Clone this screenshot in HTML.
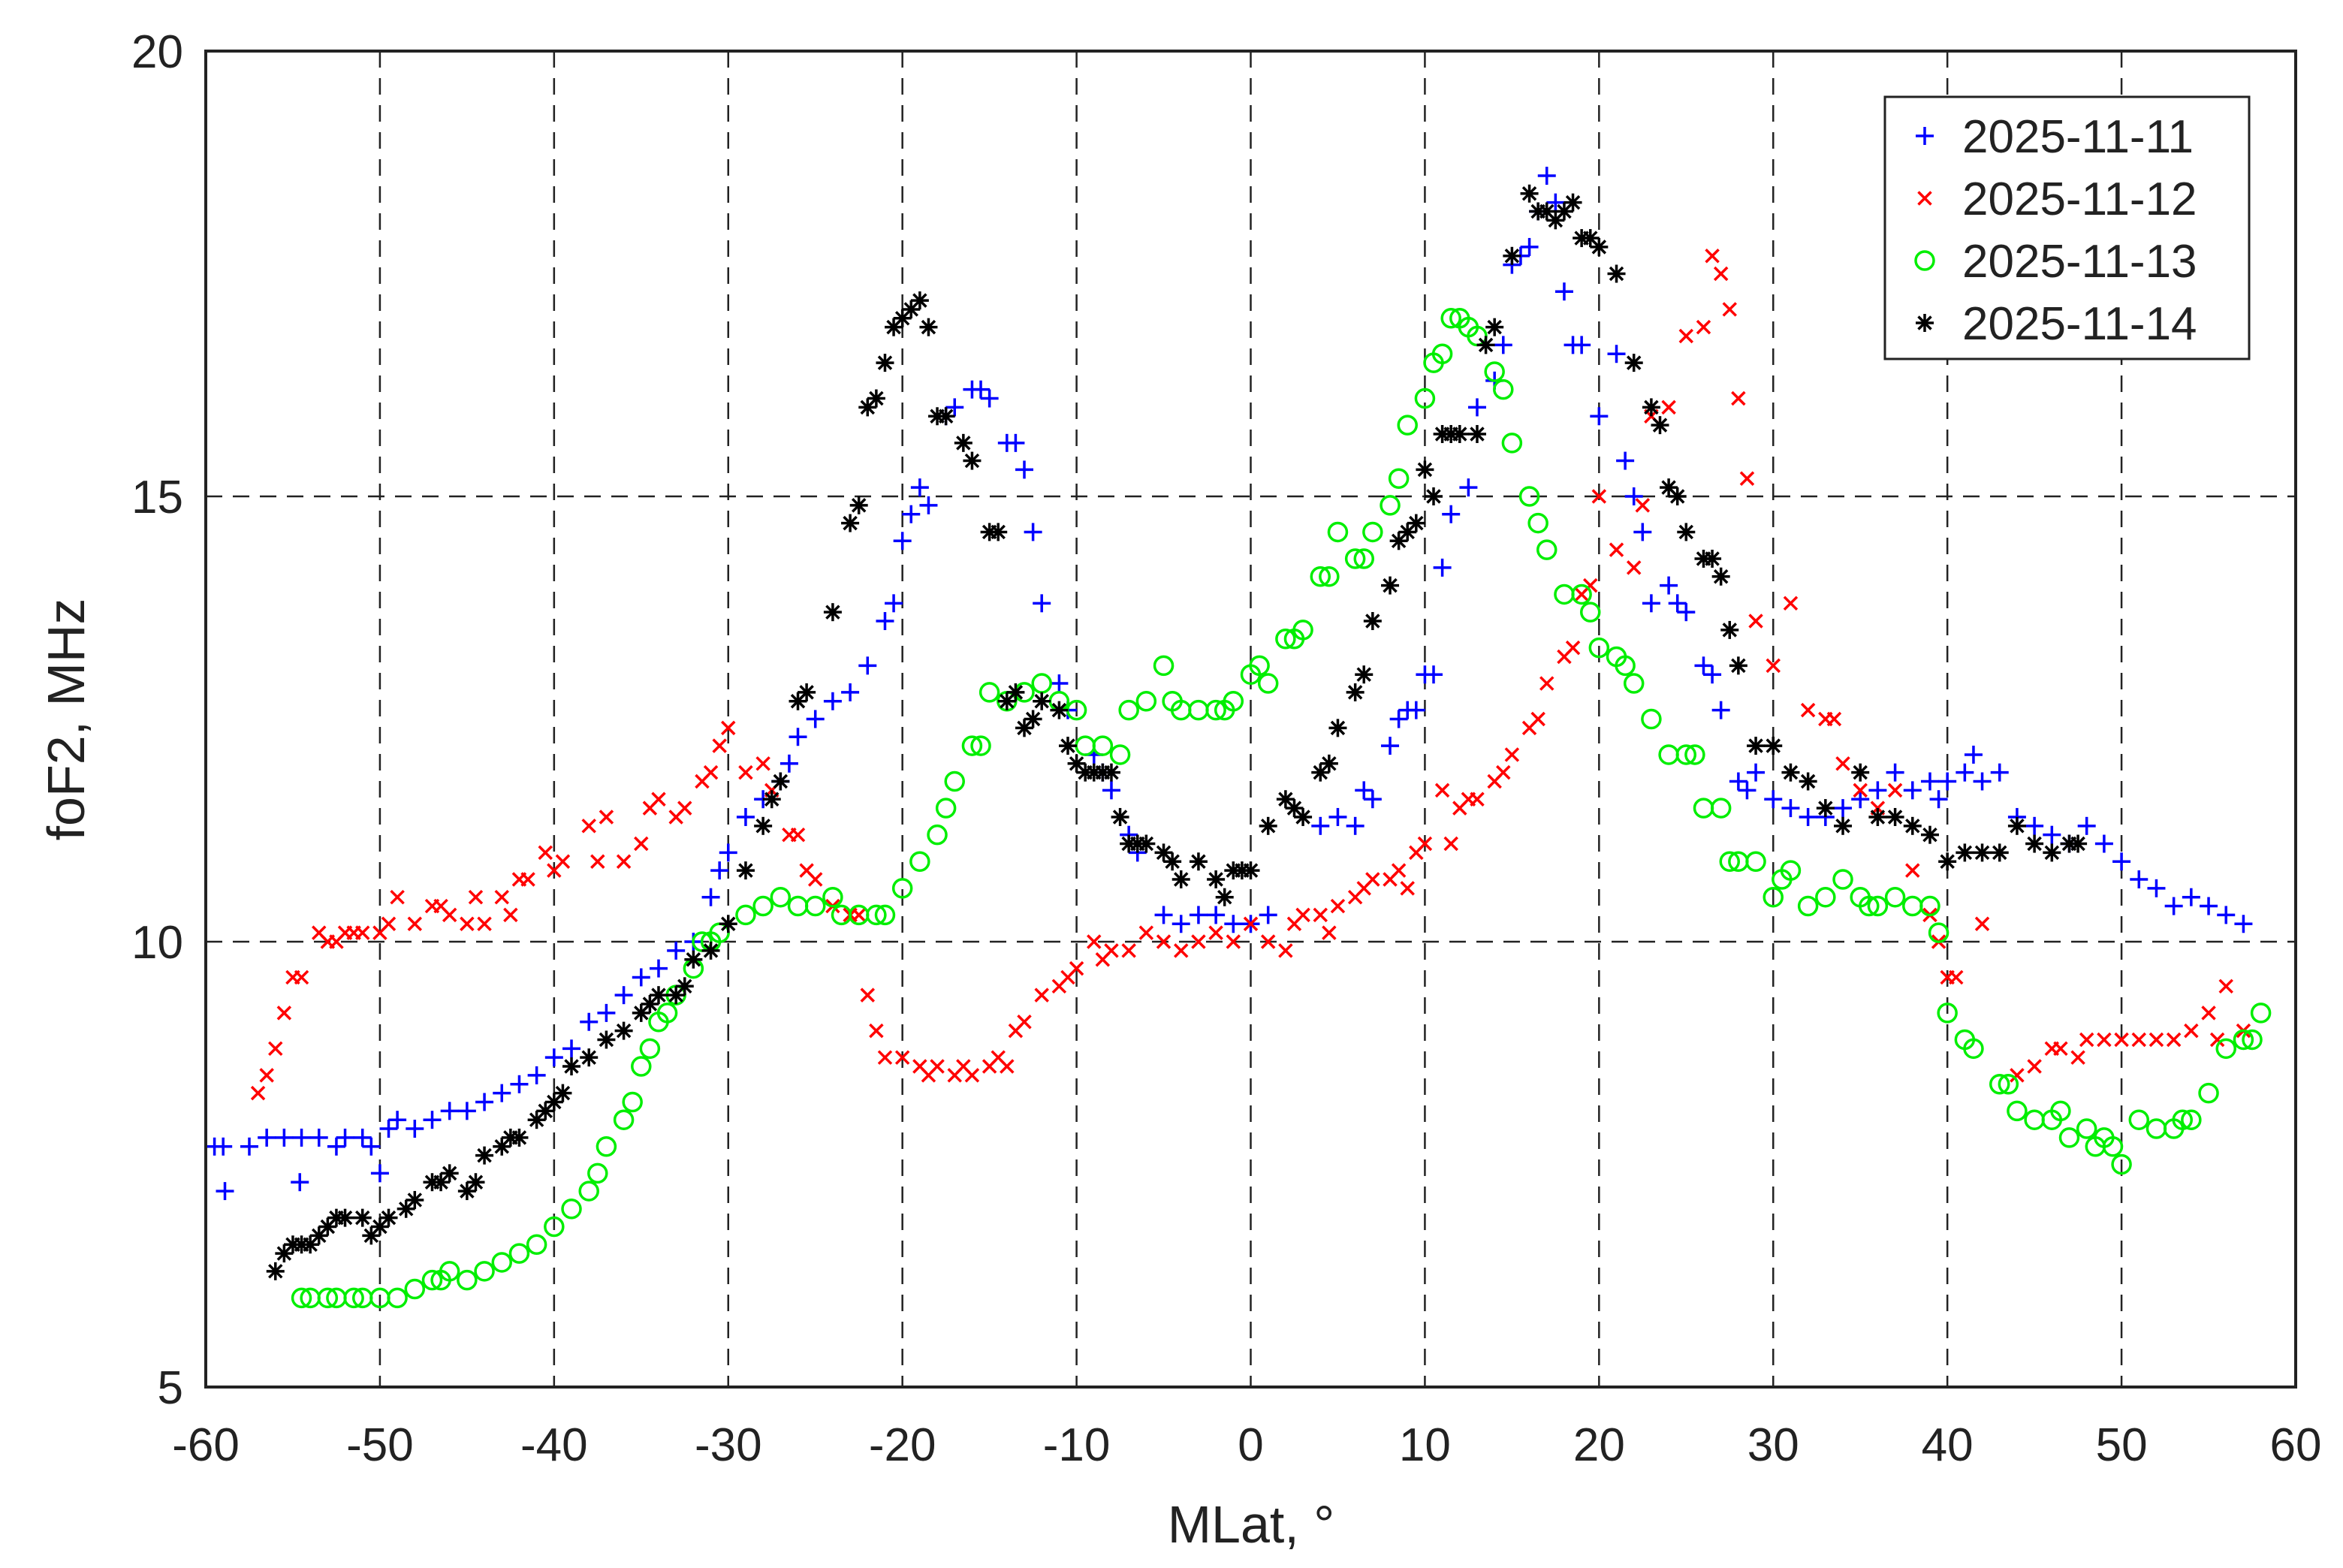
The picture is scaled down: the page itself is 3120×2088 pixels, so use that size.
<!DOCTYPE html>
<html><head><meta charset="utf-8"><style>
html,body{margin:0;padding:0;background:#fff;}
svg{display:block;font-family:"Liberation Sans",Arial,sans-serif;}
</style></head><body>
<svg id="chart" width="3120" height="2088" viewBox="0 0 3120 2088" xmlns="http://www.w3.org/2000/svg">
<rect width="3120" height="2088" fill="#fff"/>
<g id="grid"></g>
<g id="marks"></g>
<rect x="274" y="68" width="2783" height="1779" fill="none" stroke="#222" stroke-width="4"/>
<g id="ticks" font-size="62" fill="#222"></g>
<text x="1666" y="2054" font-size="70" text-anchor="middle" fill="#222">MLat, °</text>
<text transform="translate(112,958) rotate(-90)" font-size="70" text-anchor="middle" fill="#222">foF2, MHz</text>
<g>
<rect x="2510" y="129" width="485" height="349" fill="#fff" stroke="#222" stroke-width="3"/>
<g id="legend-marks"></g>
</g>
</svg>
<script>
const xTicks=[-60,-50,-40,-30,-20,-10,0,10,20,30,40,50,60];
const yTicks=[5,10,15,20];
const seriesNames=["2025-11-11","2025-11-12","2025-11-13","2025-11-14"];
const blueX=[-59.5,-59,-58.9,-57.5,-56.5,-55.5,-54.6,-54.5,-53.5,-52.5,-52,-51,-50.5,-50,-49.5,-49,-48,-47,-46,-45,-44,-43,-42,-41,-40,-39,-38,-37,-36,-35,-34,-33,-32,-31,-30.5,-30,-29,-28,-27,-26.5,-26,-25,-24,-23,-22,-21,-20.5,-20,-19.5,-19,-18.5,-17.5,-17,-16,-15.5,-15,-14,-13.5,-13,-12.5,-12,-11,-10.5,-9,-8.5,-8,-7,-6.5,-5,-4,-3,-2,-1,0,1,4,5,6,6.5,7,8,8.5,9,9.5,10,10.5,11,11.5,12.5,13,14,14.5,15,15.5,16,16.5,17,17.5,18,18.5,19,20,21,21.5,22,22.5,23,24,24.5,25,26,26.5,27,28,28.5,29,30,31,32,33,34,35,36,37,38,39,39.5,40,41,41.5,42,43,44,45,46,47,48,49,50,51,52,53,54,55,56,57];
const blueY=[7.7,7.7,7.2,7.7,7.8,7.8,7.3,7.8,7.8,7.7,7.8,7.8,7.7,7.4,7.9,8.0,7.9,8.0,8.1,8.1,8.2,8.3,8.4,8.5,8.7,8.8,9.1,9.2,9.4,9.6,9.7,9.9,10.0,10.5,10.8,11.0,11.4,11.6,11.8,12.0,12.3,12.5,12.7,12.8,13.1,13.6,13.8,14.5,14.8,15.1,14.9,15.9,16.0,16.2,16.2,16.1,15.6,15.6,15.3,14.6,13.8,12.9,12.6,12.1,11.9,11.7,11.2,11.0,10.3,10.2,10.3,10.3,10.2,10.2,10.3,11.3,11.4,11.3,11.7,11.6,12.2,12.5,12.6,12.6,13.0,13.0,14.2,14.8,15.1,16.0,16.3,16.7,17.6,17.7,17.8,18.2,18.6,18.3,17.3,16.7,16.7,15.9,16.6,15.4,15.0,14.6,13.8,14.0,13.8,13.7,13.1,13.0,12.6,11.8,11.7,11.9,11.6,11.5,11.4,11.4,11.5,11.6,11.7,11.9,11.7,11.8,11.6,11.8,11.9,12.1,11.8,11.9,11.4,11.3,11.2,11.1,11.3,11.1,10.9,10.7,10.6,10.4,10.5,10.4,10.3,10.2];
const redX=[-57,-56.5,-56,-55.5,-55,-54.5,-53.5,-53,-52.5,-52,-51.5,-51,-50,-49.5,-49,-48,-47,-46.5,-46,-45,-44.5,-44,-43,-42.5,-42,-41.5,-40.5,-40,-39.5,-38,-37.5,-37,-36,-35,-34.5,-34,-33,-32.5,-31.5,-31,-30.5,-30,-29,-28,-27.5,-26.5,-26,-25.5,-25,-24,-23,-22.5,-22,-21.5,-21,-20,-19,-18.5,-18,-17,-16.5,-16,-15,-14.5,-14,-13.5,-13,-12,-11,-10.5,-10,-9,-8.5,-8,-7,-6,-5,-4,-3,-2,-1,0,1,2,2.5,3,4,4.5,5,6,6.5,7,8,8.5,9,9.5,10,11,11.5,12,12.5,13,14,14.5,15,16,16.5,17,18,18.5,19,19.5,20,21,22,22.5,23,24,25,26,26.5,27,27.5,28,28.5,29,30,31,32,33,33.5,34,35,36,37,38,39,39.5,40,40.5,42,44,45,46,46.5,47.5,48,49,50,51,52,53,54,55,55.5,56,57];
const redY=[8.3,8.5,8.8,9.2,9.6,9.6,10.1,10.0,10.0,10.1,10.1,10.1,10.1,10.2,10.5,10.2,10.4,10.4,10.3,10.2,10.5,10.2,10.5,10.3,10.7,10.7,11.0,10.8,10.9,11.3,10.9,11.4,10.9,11.1,11.5,11.6,11.4,11.5,11.8,11.9,12.2,12.4,11.9,12.0,11.7,11.2,11.2,10.8,10.7,10.4,10.3,10.3,9.4,9.0,8.7,8.7,8.6,8.5,8.6,8.5,8.6,8.5,8.6,8.7,8.6,9.0,9.1,9.4,9.5,9.6,9.7,10.0,9.8,9.9,9.9,10.1,10.0,9.9,10.0,10.1,10.0,10.2,10.0,9.9,10.2,10.3,10.3,10.1,10.4,10.5,10.6,10.7,10.7,10.8,10.6,11.0,11.1,11.7,11.1,11.5,11.6,11.6,11.8,11.9,12.1,12.4,12.5,12.9,13.2,13.3,13.9,14.0,15.0,14.4,14.2,14.9,15.9,16.0,16.8,16.9,17.7,17.5,17.1,16.1,15.2,13.6,13.1,13.8,12.6,12.5,12.5,12.0,11.7,11.5,11.7,10.8,10.3,10.0,9.6,9.6,10.2,8.5,8.6,8.8,8.8,8.7,8.9,8.9,8.9,8.9,8.9,8.9,9.0,9.2,8.9,9.5,9.0];
const greenX=[-54.5,-54,-53,-52.5,-51.5,-51,-50,-49,-48,-47,-46.5,-46,-45,-44,-43,-42,-41,-40,-39,-38,-37.5,-37,-36,-35.5,-35,-34.5,-34,-33.5,-33,-32,-31.5,-31,-30.5,-29,-28,-27,-26,-25,-24,-23.5,-22.5,-21.5,-21,-20,-19,-18,-17.5,-17,-16,-15.5,-15,-14,-13,-12,-11,-10,-9.5,-8.5,-7.5,-7,-6,-5,-4.5,-4,-3,-2,-1.5,-1,0,0.5,1,2,2.5,3,4,4.5,5,6,6.5,7,8,8.5,9,10,10.5,11,11.5,12,12.5,13,14,14.5,15,16,16.5,17,18,19,19.5,20,21,21.5,22,23,24,25,25.5,26,27,27.5,28,29,30,30.5,31,32,33,34,35,35.5,36,37,38,39,39.5,40,41,41.5,43,43.5,44,45,46,46.5,47,48,48.5,49,49.5,50,51,52,53,53.5,54,55,56,57,57.5,58];
const greenY=[6.0,6.0,6.0,6.0,6.0,6.0,6.0,6.0,6.1,6.2,6.2,6.3,6.2,6.3,6.4,6.5,6.6,6.8,7.0,7.2,7.4,7.7,8.0,8.2,8.6,8.8,9.1,9.2,9.4,9.7,10.0,10.0,10.1,10.3,10.4,10.5,10.4,10.4,10.5,10.3,10.3,10.3,10.3,10.6,10.9,11.2,11.5,11.8,12.2,12.2,12.8,12.7,12.8,12.9,12.7,12.6,12.2,12.2,12.1,12.6,12.7,13.1,12.7,12.6,12.6,12.6,12.6,12.7,13.0,13.1,12.9,13.4,13.4,13.5,14.1,14.1,14.6,14.3,14.3,14.6,14.9,15.2,15.8,16.1,16.5,16.6,17.0,17.0,16.9,16.8,16.4,16.2,15.6,15.0,14.7,14.4,13.9,13.9,13.7,13.3,13.2,13.1,12.9,12.5,12.1,12.1,12.1,11.5,11.5,10.9,10.9,10.9,10.5,10.7,10.8,10.4,10.5,10.7,10.5,10.4,10.4,10.5,10.4,10.4,10.1,9.2,8.9,8.8,8.4,8.4,8.1,8.0,8.0,8.1,7.8,7.9,7.7,7.8,7.7,7.5,8.0,7.9,7.9,8.0,8.0,8.3,8.8,8.9,8.9,9.2];
const blackX=[-56,-55.5,-55,-54.5,-54,-53.5,-53,-52.5,-52,-51,-50.5,-50,-49.5,-48.5,-48,-47,-46.5,-46,-45,-44.5,-44,-43,-42.5,-42,-41,-40.5,-40,-39.5,-39,-38,-37,-36,-35,-34.5,-34,-33,-32.5,-32,-31,-30,-29,-28,-27.5,-27,-26,-25.5,-24,-23,-22.5,-22,-21.5,-21,-20.5,-20,-19.5,-19,-18.5,-18,-17.5,-16.5,-16,-15,-14.5,-14,-13.5,-13,-12.5,-12,-11,-10.5,-10,-9.5,-9,-8.5,-8,-7.5,-7,-6.5,-6,-5,-4.5,-4,-3,-2,-1.5,-1,-0.5,0,1,2,2.5,3,4,4.5,5,6,6.5,7,8,8.5,9,9.5,10,10.5,11,11.5,12,13,13.5,14,15,16,16.5,17,17.5,18,18.5,19,19.5,20,21,22,23,23.5,24,24.5,25,26,26.5,27,27.5,28,29,30,31,32,33,34,35,36,37,38,39,40,41,42,43,44,45,46,47,47.5];
const blackY=[6.3,6.5,6.6,6.6,6.6,6.7,6.8,6.9,6.9,6.9,6.7,6.8,6.9,7.0,7.1,7.3,7.3,7.4,7.2,7.3,7.6,7.7,7.8,7.8,8.0,8.1,8.2,8.3,8.6,8.7,8.9,9.0,9.2,9.3,9.4,9.4,9.5,9.8,9.9,10.2,10.8,11.3,11.6,11.8,12.7,12.8,13.7,14.7,14.9,16.0,16.1,16.5,16.9,17.0,17.1,17.2,16.9,15.9,15.9,15.6,15.4,14.6,14.6,12.7,12.8,12.4,12.5,12.7,12.6,12.2,12.0,11.9,11.9,11.9,11.9,11.4,11.1,11.1,11.1,11.0,10.9,10.7,10.9,10.7,10.5,10.8,10.8,10.8,11.3,11.6,11.5,11.4,11.9,12.0,12.4,12.8,13.0,13.6,14.0,14.5,14.6,14.7,15.3,15.0,15.7,15.7,15.7,15.7,16.7,16.9,17.7,18.4,18.2,18.2,18.1,18.2,18.3,17.9,17.9,17.8,17.5,16.5,16.0,15.8,15.1,15.0,14.6,14.3,14.3,14.1,13.5,13.1,12.2,12.2,11.9,11.8,11.5,11.3,11.9,11.4,11.4,11.3,11.2,10.9,11.0,11.0,11.0,11.3,11.1,11.0,11.1,11.1];

const L=274,R=3057,T=68,B=1847;
function xs(v){return L+(v+60)/120*(R-L);}
function ys(v){return B-(v-5)/15*(B-T);}
const NS="http://www.w3.org/2000/svg";
function mk(tag,attrs,parent){const e=document.createElementNS(NS,tag);for(const k in attrs)e.setAttribute(k,attrs[k]);parent.appendChild(e);return e;}

const grid=document.getElementById('grid');
const ticks=document.getElementById('ticks');
xTicks.forEach(t=>{
  const x=xs(t);
  if(t>-60&&t<60){
    const g=mk('line',{x1:x,x2:x,y1:T,y2:B,stroke:'#222','stroke-width':2.5,'stroke-dasharray':'22,14'},grid);
    
    
  }
  const tx=mk('text',{x:x,y:1945,'text-anchor':'middle'},ticks);
  tx.textContent=t;
  
  
});
yTicks.forEach(t=>{
  const y=ys(t);
  if(t>5&&t<20){
    const g=mk('line',{x1:L,x2:R,y1:y,y2:y,stroke:'#222','stroke-width':2.5,'stroke-dasharray':'22,14'},grid);
    
    
  }
  const tx=mk('text',{x:244,y:y+22,'text-anchor':'end'},ticks);
  tx.textContent=t;
  
  
});

function marker(kind,x,y,color,parent){
  const g=mk('g',{stroke:color,'stroke-width':3.5,fill:'none'},parent);
  const s=12;
  if(kind==='plus'){
    mk('line',{x1:x-s,x2:x+s,y1:y,y2:y},g);mk('line',{x1:x,x2:x,y1:y-s,y2:y+s},g);
  }else if(kind==='x'){
    const d=8.5;mk('line',{x1:x-d,x2:x+d,y1:y-d,y2:y+d},g);mk('line',{x1:x-d,x2:x+d,y1:y+d,y2:y-d},g);
  }else if(kind==='o'){
    mk('circle',{cx:x,cy:y,r:12},g);
  }else{
    const d=8.5;
    mk('line',{x1:x-s,x2:x+s,y1:y,y2:y},g);mk('line',{x1:x,x2:x,y1:y-s,y2:y+s},g);
    mk('line',{x1:x-d,x2:x+d,y1:y-d,y2:y+d},g);mk('line',{x1:x-d,x2:x+d,y1:y+d,y2:y-d},g);
  }
  return g;
}
const marks=document.getElementById('marks');
const series=[[blueX,blueY,'plus','#0000ff','series-2025-11-11'],[redX,redY,'x','#ff0000','series-2025-11-12'],[greenX,greenY,'o','#00ee00','series-2025-11-13'],[blackX,blackY,'star','#000000','series-2025-11-14']];
series.forEach(([X,Y,kind,col,name])=>{
  const g=mk('g',{},marks);
  
  
  X.forEach((v,i)=>{
    const m=marker(kind,xs(v),ys(Y[i]),col,g);
    
    
  });
});
const lg=document.getElementById('legend-marks');
series.forEach(([X,Y,kind,col,name],i)=>{
  const cy=181+i*83;
  const e=mk('g',{},lg);
  
  
  marker(kind,2563,cy,col,e);
  const t=mk('text',{x:2613,y:cy+22,'font-size':62,fill:'#222'},e);
  t.textContent=seriesNames[i];
});
</script>
</body></html>
